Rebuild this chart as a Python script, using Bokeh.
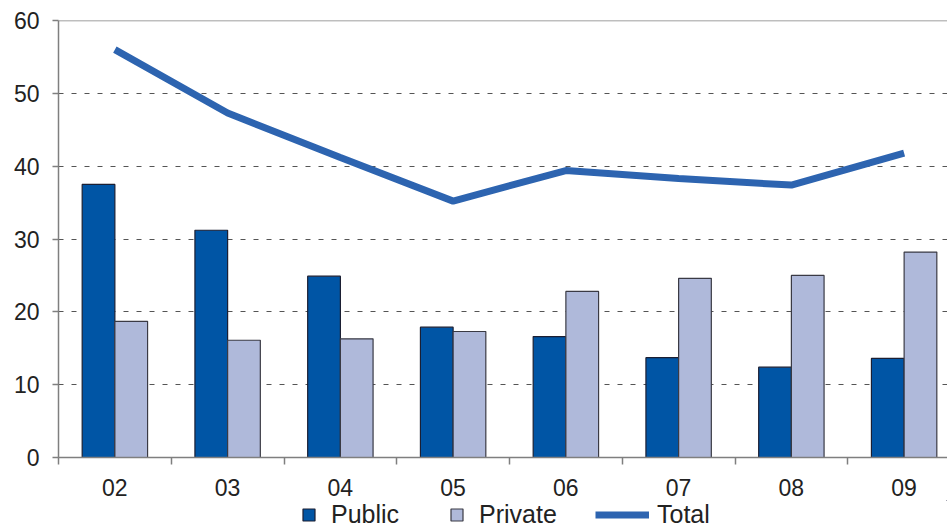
from bokeh.plotting import figure
from bokeh.layouts import column
from bokeh.models import FixedTicker, Legend, LegendItem, Span, Range1d
from bokeh.embed import file_html
from bokeh.resources import INLINE

years = ["02", "03", "04", "05", "06", "07", "08", "09"]
public = [37.5, 31.2, 24.9, 17.9, 16.6, 13.7, 12.4, 13.6]
private = [18.7, 16.1, 16.3, 17.3, 22.8, 24.6, 25.0, 28.2]
total = [56.0, 47.3, 41.2, 35.2, 39.4, 38.3, 37.4, 41.8]
y_ticks = [0, 10, 20, 30, 40, 50, 60]

FONT = "Liberation Sans"
AXIS_COLOR = "#7f7f7f"
PUB_FILL, PUB_LINE = "#0055A5", "#1b1f33"
PRI_FILL, PRI_LINE = "#AFB9DA", "#3a3a44"
TOT_COLOR = "#2D64B0"

n = len(years)
centers = [i + 0.5 for i in range(n)]
bounds = [float(i) for i in range(n + 1)]
bw = 0.29
pub_x = [c - bw / 2 for c in centers]
pri_x = [c + bw / 2 for c in centers]

W = 947
H_MAIN, H_LEG = 500, 29
left, top, bottom = 58, 20, 43
x_end = (W - left) / 112.75

p = figure(width=W, height=H_MAIN, output_backend="svg", toolbar_location=None,
           x_range=Range1d(0, x_end), y_range=Range1d(0, 60),
           min_border_left=left, min_border_right=0, min_border_top=top,
           min_border_bottom=bottom)
p.outline_line_color = None
p.background_fill_color = "white"
p.border_fill_color = "white"

p.vbar(x=pub_x, top=public, width=bw, bottom=0, fill_color=PUB_FILL,
       line_color=PUB_LINE, line_width=1.2)
p.vbar(x=pri_x, top=private, width=bw, bottom=0, fill_color=PRI_FILL,
       line_color=PRI_LINE, line_width=1.2)
p.line(x=centers, y=total, line_color=TOT_COLOR, line_width=7)

# axes
p.xaxis.ticker = FixedTicker(ticks=centers, minor_ticks=bounds)
p.xaxis.major_label_overrides = {c: y for c, y in zip(centers, years)}
p.xaxis.major_tick_line_color = None
p.xaxis.major_tick_out = 0
p.xaxis.major_tick_in = 0
p.xaxis.minor_tick_out = 7
p.xaxis.minor_tick_in = 0
p.xaxis.minor_tick_line_color = AXIS_COLOR
p.xaxis.minor_tick_line_width = 1.5
p.xaxis.major_label_standoff = 14

p.yaxis.ticker = FixedTicker(ticks=y_ticks)
p.yaxis.major_tick_out = 6
p.yaxis.major_tick_in = 0
p.yaxis.minor_tick_line_color = None
p.yaxis.major_tick_line_color = AXIS_COLOR
p.yaxis.major_tick_line_width = 1.5
p.yaxis.major_label_standoff = 13

for ax in (p.xaxis, p.yaxis):
    ax.axis_line_color = AXIS_COLOR
    ax.axis_line_width = 1.5
    ax.major_label_text_font = FONT
    ax.major_label_text_font_size = "23px"
    ax.major_label_text_color = "#222222"

p.xgrid.grid_line_color = None
p.ygrid.ticker = FixedTicker(ticks=y_ticks[1:-1])
p.ygrid.grid_line_color = "#555555"
p.ygrid.grid_line_dash = "5 8"
p.ygrid.grid_line_width = 1.2

p.add_layout(Span(location=60, dimension="width", line_color=AXIS_COLOR,
                  line_width=1.5))

# legend strip below the chart (its renderers lie outside its visible range;
# they only supply the legend swatches)
lf = figure(width=W, height=H_LEG, output_backend="svg", toolbar_location=None,
            x_range=Range1d(-20, -19), y_range=Range1d(-20, -19),
            min_border=0)
lf.axis.visible = False
lf.grid.visible = False
lf.outline_line_color = None
lf.background_fill_color = "white"
lf.border_fill_color = "white"

l_pub = lf.vbar(x=pub_x, top=public, width=bw, fill_color=PUB_FILL,
                line_color=PUB_LINE, line_width=1.2)
l_pri = lf.vbar(x=pri_x, top=private, width=bw, fill_color=PRI_FILL,
                line_color=PRI_LINE, line_width=1.2)
l_tot = lf.line(x=centers, y=total, line_color=TOT_COLOR, line_width=7)

FRAME_OFFSET = left  # the column aligns this strip's frame with the chart's

def make_legend(label, rend, x, gw, gh, standoff):
    lg = Legend(items=[LegendItem(label=label, renderers=[rend])],
                location=(x - FRAME_OFFSET, 0), orientation="horizontal",
                glyph_width=gw, glyph_height=gh, label_standoff=standoff,
                padding=0, margin=0, border_line_color=None,
                background_fill_alpha=0, label_text_font=FONT,
                label_text_font_size="25px", label_text_color="#222222",
                label_height=28)
    lf.add_layout(lg)

make_legend("Public", l_pub, 301, 15, 15, 15)
make_legend("Private", l_pri, 449, 15, 15, 15)
make_legend("Total", l_tot, 595, 54, 15, 8)

open("out.html", "w").write(file_html(column(p, lf, spacing=0), INLINE))
